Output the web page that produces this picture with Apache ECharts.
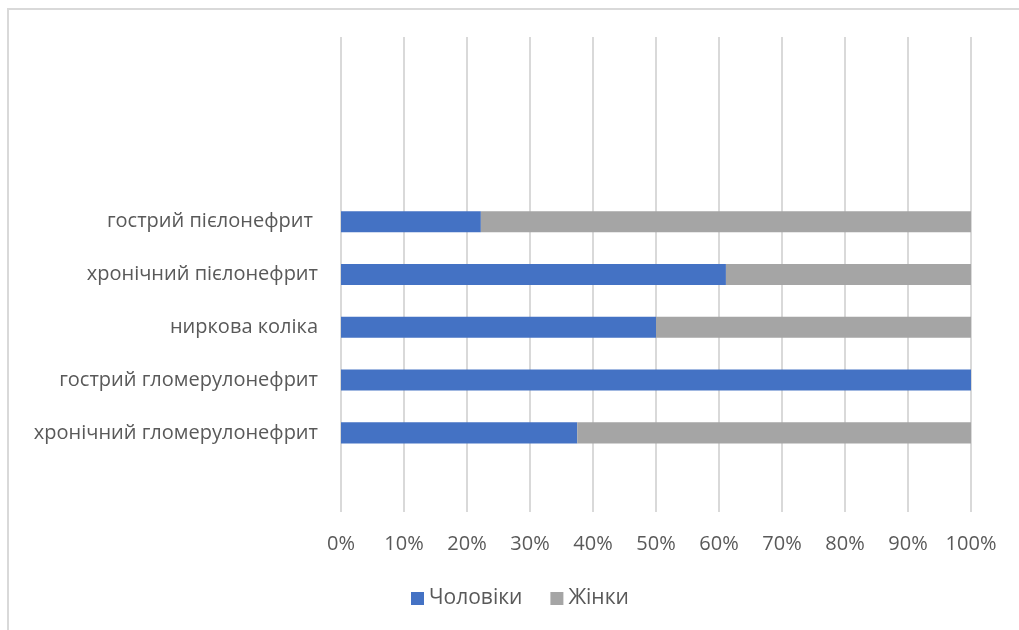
<!DOCTYPE html>
<html><head><meta charset="utf-8">
<script src="https://cdn.jsdelivr.net/npm/echarts@6/dist/echarts.min.js"></script>
<style>
html,body{margin:0;padding:0;background:#fff;}
#frame{position:absolute;left:7px;top:8px;width:1030px;height:640px;border-left:2px solid #D9D9D9;border-top:2px solid #D9D9D9;box-sizing:border-box;}
#chart{position:absolute;left:0;top:0;width:1019px;height:630px;}
</style></head>
<body>
<div id="frame"></div>
<div id="chart"></div>
<script>
// categories bottom-to-top (empty slots kept as in the original chart)
const categories = ['', 'хронічний гломерулонефрит', 'гострий гломерулонефрит', 'ниркова коліка', 'хронічний пієлонефрит', 'гострий пієлонефрит ', ' ', '  ', '   '];
const men   = [null, 37.5, 100, 50, 61.1, 22.2, null, null, null];
const women = [null, 62.5, 0, 50, 38.9, 77.8, null, null, null];
const seriesNames = ['Чоловіки', 'Жінки'];
const xTicks = [0,10,20,30,40,50,60,70,80,90,100];

const font = '"Open Sans", "Noto Sans", sans-serif';
const chart = echarts.init(document.getElementById('chart'));
chart.setOption({
  animation: false,
  textStyle: { fontFamily: font },
  grid: { left: 341, right: 48, top: 37, bottom: 118, containLabel: false },
  legend: {
    data: seriesNames,
    bottom: 16,
    left: 406,
    itemWidth: 13, itemHeight: 13, itemGap: 28,
    icon: 'rect',
    textStyle: { fontSize: 21, color: '#595959', fontFamily: font }
  },
  xAxis: {
    type: 'value', min: xTicks[0], max: xTicks[xTicks.length - 1], interval: 10,
    axisLabel: { formatter: v => v + '%', fontSize: 20, color: '#595959', margin: 22 },
    splitLine: { lineStyle: { color: '#D9D9D9', width: 2 } },
    axisLine: { show: false }, axisTick: { show: false }
  },
  yAxis: {
    type: 'category', data: categories,
    axisLabel: { fontSize: 20, color: '#595959', margin: 23 },
    axisLine: { show: false }, axisTick: { show: false }
  },
  series: [
    { name: seriesNames[0], type: 'bar', stack: 's', data: men, barCategoryGap: '60%', itemStyle: { color: '#4472C4' } },
    { name: seriesNames[1], type: 'bar', stack: 's', data: women, barCategoryGap: '60%', itemStyle: { color: '#A5A5A5' } }
  ]
});
</script>
</body></html>
